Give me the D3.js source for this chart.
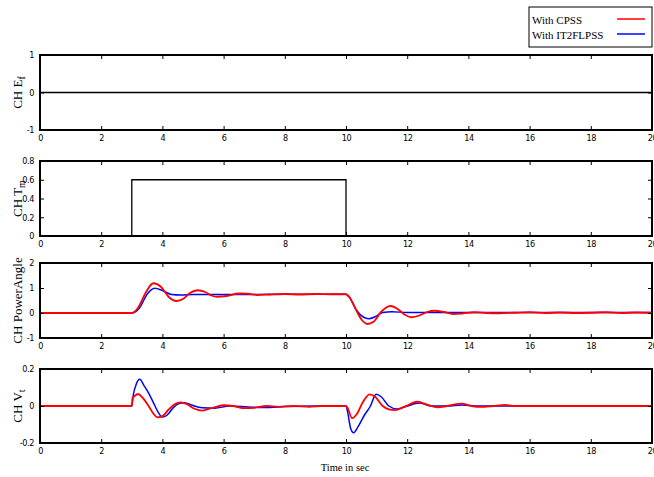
<!DOCTYPE html>
<html><head><meta charset="utf-8">
<script src="https://cdn.jsdelivr.net/npm/d3@7"></script>
<style>
body{margin:0;background:#fff;}
svg{display:block;}
.tick text{font-family:'Liberation Sans Narrow','Arial Narrow','DejaVu Sans Condensed','Liberation Sans',sans-serif;font-size:9px;letter-spacing:-0.4px;fill:#000;}
.ylab,.xlab,.leg{font-family:'Liberation Serif','Times New Roman',serif;fill:#000;}
</style></head>
<body>
<svg id="c" width="654" height="477"></svg>
<script>
// ---- data ----
const xTicks = [0,2,4,6,8,10,12,14,16,18,20];
const efTicks = [-1,0,1];
const tmTicks = [0,0.2,0.4,0.6,0.8];
const paTicks = [-1,0,1,2];
const vtTicks = [-0.2,0,0.2];
const seriesNames = ["With CPSS","With IT2FLPSS"];

const efT = [0,20];
const efV = [0,0];

const tmT = [0,3,3,10,10,20];
const tmV = [0,0,0.6,0.6,0,0];

const paCpssT = [0,3.0,3.2,3.45,3.7,3.95,4.2,4.45,4.7,4.9,5.15,5.4,5.6,5.8,6.1,6.5,6.8,7.1,7.5,8.0,8.5,9.0,9.5,10.0,10.1,10.3,10.5,10.7,10.9,11.15,11.45,11.7,11.9,12.15,12.4,12.65,12.9,13.2,13.5,13.8,14.2,14.6,15.0,15.5,16.0,16.5,17.0,17.5,18.0,18.5,19.0,19.5,20];
const paCpssV = [0,0,0.2,0.8,1.19,1.05,0.65,0.48,0.58,0.8,0.91,0.84,0.7,0.65,0.68,0.78,0.77,0.72,0.74,0.76,0.74,0.76,0.75,0.75,0.65,0.2,-0.25,-0.44,-0.35,0.05,0.28,0.15,-0.05,-0.17,-0.1,0.04,0.09,0.04,-0.04,-0.02,0.03,0.0,-0.01,0.01,0.03,0.0,0.02,0.0,0.01,0.03,0.0,0.02,0.01];

const paFlT = [0,3.0,3.25,3.5,3.75,4.0,4.3,4.6,5.0,6.0,8.0,10.0,10.1,10.35,10.55,10.75,10.95,11.2,11.5,12.0,13.0,20];
const paFlV = [0,0,0.2,0.75,0.99,0.9,0.74,0.72,0.74,0.74,0.75,0.75,0.65,0.1,-0.15,-0.23,-0.15,0.02,0.05,0.02,0.02,0.02];

const vtCpssT = [0,3.0,3.02,3.1,3.2,3.35,3.55,3.7,3.85,4.0,4.2,4.4,4.6,4.8,5.05,5.3,5.6,6.0,6.3,6.7,7.0,7.4,7.8,8.3,8.8,9.2,10.0,10.05,10.2,10.35,10.55,10.77,10.95,11.2,11.4,11.6,11.9,12.33,12.6,13.0,13.3,13.77,14.1,14.4,14.8,15.2,15.5,20];
const vtCpssV = [0,0,0.04,0.055,0.065,0.045,0.0,-0.04,-0.061,-0.055,-0.02,0.01,0.02,0.01,-0.015,-0.025,-0.012,0.004,0.0,-0.012,-0.01,0.0,-0.005,0.0,-0.005,0.0,0.0,-0.01,-0.066,-0.045,0.02,0.063,0.05,0.0,-0.018,-0.022,-0.005,0.023,0.01,-0.007,0.0,0.013,0.0,-0.005,0.0,0.006,0.0,0];

const vtFlT = [0,3.0,3.05,3.15,3.26,3.4,3.55,3.7,3.85,4.0,4.15,4.35,4.5,4.7,4.95,5.3,5.7,6.2,6.8,7.5,8.0,9.0,10.0,10.05,10.15,10.25,10.4,10.6,10.8,10.98,11.15,11.4,11.67,12.0,12.4,12.8,13.3,13.8,14.3,20];
const vtFlV = [0,0,0.06,0.12,0.144,0.11,0.07,0.02,-0.03,-0.06,-0.05,-0.01,0.01,0.018,0.005,-0.01,-0.012,0.0,-0.005,-0.008,-0.003,0.0,0.0,-0.03,-0.12,-0.144,-0.11,-0.05,0.0,0.063,0.05,0.0,-0.016,0.0,0.016,0.0,0.0,0.006,0.0,0];

// ---- drawing ----
const svg = d3.select("#c");
const x = d3.scaleLinear().domain([0,20]).range([40,652]);
const zip = (t,v)=>t.map((d,i)=>[d,v[i]]);

const panels = [
  {top:55, bot:130, dom:[-1,1], ticks:efTicks, lab:["CH E","f"], lines:[{d:zip(efT,efV),c:"#000",w:1.3,curve:d3.curveLinear}]},
  {top:161, bot:236, dom:[0,0.8], ticks:tmTicks, lab:["CH T","m"], lines:[{d:zip(tmT,tmV),c:"#000",w:1.3,curve:d3.curveLinear}]},
  {top:263, bot:338, dom:[-1,2], ticks:paTicks, lab:["CH PowerAngle",""], lines:[
     {d:zip(paFlT,paFlV),c:"#0000ff",w:1.5,curve:d3.curveMonotoneX},
     {d:zip(paCpssT,paCpssV),c:"#ff0000",w:1.8,curve:d3.curveMonotoneX}]},
  {top:369, bot:443, dom:[-0.2,0.2], ticks:vtTicks, lab:["CH V","t"], lines:[
     {d:zip(vtFlT,vtFlV),c:"#0000ff",w:1.5,curve:d3.curveMonotoneX},
     {d:zip(vtCpssT,vtCpssV),c:"#ff0000",w:1.8,curve:d3.curveMonotoneX}]}
];

panels.forEach(p=>{
  const y = d3.scaleLinear().domain(p.dom).range([p.bot,p.top]);
  const g = svg.append("g");
  p.lines.forEach(l=>{
    g.append("path").datum(l.d)
      .attr("fill","none").attr("stroke",l.c).attr("stroke-width",l.w)
      .attr("d",d3.line().x(d=>x(d[0])).y(d=>y(d[1])).curve(l.curve));
  });
  const ab = g.append("g").attr("transform",`translate(0,${p.bot})`)
    .call(d3.axisBottom(x).tickValues(xTicks).tickSize(-4).tickPadding(5));
  const at = g.append("g").attr("transform",`translate(0,${p.top})`)
    .call(d3.axisTop(x).tickValues(xTicks).tickSize(-4).tickFormat(""));
  const al = g.append("g").attr("transform",`translate(40,0)`)
    .call(d3.axisLeft(y).tickValues(p.ticks).tickSize(-4).tickPadding(6).tickFormat(d=>d));
  const ar = g.append("g").attr("transform",`translate(652,0)`)
    .call(d3.axisRight(y).tickValues(p.ticks).tickSize(-4).tickFormat(""));
  [ab,at,al,ar].forEach(a=>{a.select(".domain").remove(); a.selectAll("line").attr("stroke","#000").attr("stroke-width",1);});
  g.append("rect").attr("x",40).attr("y",p.top).attr("width",612).attr("height",p.bot-p.top)
    .attr("fill","none").attr("stroke","#000").attr("stroke-width",2);
  const t = g.append("text").attr("class","ylab")
    .attr("transform",`translate(22,${(p.top+p.bot)/2}) rotate(-90)`)
    .attr("text-anchor","middle").attr("font-size","13px");
  t.append("tspan").text(p.lab[0]);
  if(p.lab[1]) t.append("tspan").attr("dy",3).attr("font-size","10px").text(p.lab[1]);
});

svg.append("text").attr("class","xlab").attr("x",345).attr("y",471)
  .attr("text-anchor","middle").attr("font-size","10.5px").text("Time in sec");

const lg = svg.append("g");
lg.append("rect").attr("x",529).attr("y",7).attr("width",123).attr("height",40)
  .attr("fill","#fff").attr("stroke","#000").attr("stroke-width",1);
const legColors = ["#ff0000","#0000ff"];
seriesNames.forEach((n,i)=>{
  lg.append("text").attr("class","leg").attr("x",532).attr("y",24+i*15)
    .attr("font-size","11px").text(n);
  lg.append("line").attr("x1",617).attr("x2",645).attr("y1",19+i*15).attr("y2",19+i*15)
    .attr("stroke",legColors[i]).attr("stroke-width",1.5);
});
</script>
</body></html>
